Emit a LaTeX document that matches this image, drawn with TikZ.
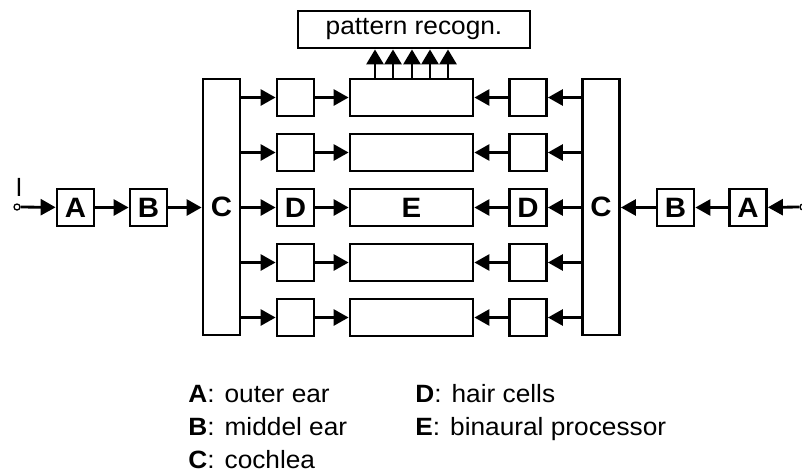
\documentclass[tikz,border=0pt]{standalone}
\usepackage{fontspec}
\setmainfont{Liberation Sans}[FakeStretch=1.05]
\usetikzlibrary{arrows.meta}

\begin{document}
\begin{tikzpicture}[x=1pt, y=-1pt, line width=2.8pt,
  blk/.style={draw, minimum width=37pt, minimum height=37pt, inner sep=0pt,
    font=\fontsize{28}{28}\selectfont\bfseries},
  tall/.style={blk, minimum height=256pt},
  wide/.style={blk, minimum width=123pt},
  port/.style={circle, draw, line width=1.3pt, minimum size=6pt, inner sep=0pt},
  txt/.style={inner sep=0pt, font=\fontsize{25}{25}\selectfont},
  key/.style={txt, anchor=base west},
  hor/.style={-{Triangle[length=15pt, width=16pt]}},
  ver/.style={-{Triangle[length=15pt, width=17pt]}}]

\useasboundingbox (0,0) rectangle (802,474);

% left ear chain
\node[port] (inL) at (17,207) {};
\node[txt, anchor=base] (lbl) at (19,196) {l};
\node[blk] (AL) at (75.5,207.5) {A};
\node[blk] (BL) at (148.5,207.5) {B};
\node[tall] (CL) at (221.5,207) {C};

% right ear chain
\node[port] (inR) at (803,207) {};
\node[blk] (AR) at (748,207.5) {A};
\node[blk] (BR) at (675.5,207.5) {B};
\node[tall] (CR) at (601,207) {C};

% five frequency channels
\foreach \i/\y in {1/97.5,2/152.5,3/207.5,4/262.5,5/317.5} {
  \node[blk] (DL\i) at (295.5,\y) {};
  \node[wide] (E\i) at (411.5,\y) {};
  \node[blk] (DR\i) at (528,\y) {};
  \draw[hor] (CL.east |- DL\i) -- (DL\i);
  \draw[hor] (DL\i) -- (E\i);
  \draw[hor] (CR.west |- DR\i) -- (DR\i);
  \draw[hor] (DR\i) -- (E\i);
}
\node[font=\fontsize{28}{28}\selectfont\bfseries] at (DL3) {D};
\node[font=\fontsize{28}{28}\selectfont\bfseries] at (E3) {E};
\node[font=\fontsize{28}{28}\selectfont\bfseries] at (DR3) {D};

\draw[hor] (inL) -- (AL);
\draw[hor] (AL) -- (BL);
\draw[hor] (BL) -- (CL.west |- BL);
\draw[hor] (inR) -- (AR);
\draw[hor] (AR) -- (BR);
\draw[hor] (BR) -- (CR.east |- BR);

% pattern recognition stage
\node[draw, minimum width=232pt, minimum height=37pt, inner sep=0pt,
  font=\fontsize{25}{25}\selectfont] (P) at (414,29.5) {pattern recogn.};
\foreach \i/\x in {1/375,2/393,3/412,4/430,5/448} {
  \coordinate (t\i) at (\x,0);
  \draw[ver] (E1.north -| t\i) -- (P.south -| t\i);
}

% legend
\node[key] (kA) at (187,402) {\textbf{A}:\hspace{10pt}outer ear};
\node[key] (kB) at (187,435) {\textbf{B}:\hspace{10pt}middel ear};
\node[key] (kC) at (187,468) {\textbf{C}:\hspace{10pt}cochlea};
\node[key] (kD) at (414,402) {\textbf{D}:\hspace{10pt}hair cells};
\node[key] (kE) at (414,435) {\textbf{E}:\hspace{10pt}binaural processor};
\end{tikzpicture}
\end{document}
